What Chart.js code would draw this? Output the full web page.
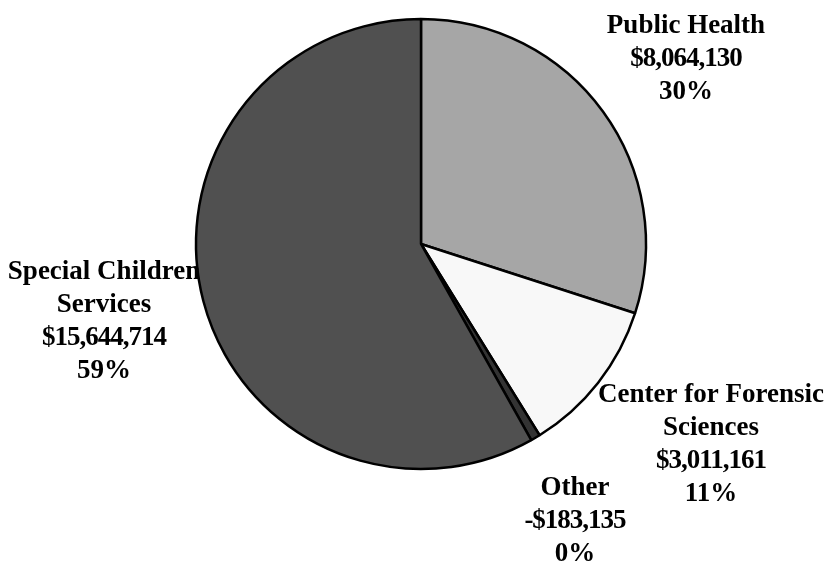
<!DOCTYPE html>
<html>
<head>
<meta charset="utf-8">
<script src="https://cdn.jsdelivr.net/npm/chart.js@4"></script>
<style>
  html, body { margin: 0; padding: 0; background: #fff; }
  #pieChart { display: block; }
</style>
</head>
<body>
<canvas id="pieChart" width="825" height="565"></canvas>
<script>
// data
const categories = ['Public Health', 'Center for Forensic Sciences', 'Other', 'Special Children Services'];
const nameLines = [['Public Health'], ['Center for Forensic', 'Sciences'], ['Other'], ['Special Children', 'Services']];
const amounts = [8064130, 3011161, -183135, 15644714];
const percentLabels = ['30%', '11%', '0%', '59%'];
const sliceColors = ['#a6a6a6', '#f8f8f8', '#333333', '#505050'];

// where each label block is centred (x, y of first line)
const labelSpots = [[686, 26], [711, 395], [575, 488], [104, 272]];

function money(v) {
    const s = '$' + Math.abs(v).toLocaleString('en-US');
    return v < 0 ? '-' + s : s;
}

const labelPlugin = {
    id: 'sliceLabels',
    afterDraw(chart) {
        const ctx = chart.ctx;
        ctx.save();
        ctx.font = 'bold 27px "Liberation Serif", "Times New Roman", serif';
        ctx.fillStyle = '#000';
        ctx.textAlign = 'center';
        ctx.textBaseline = 'middle';
        categories.forEach(function(cat, i) {
            const x = labelSpots[i][0];
            let y = labelSpots[i][1];
            nameLines[i].forEach(function(line) {
                ctx.letterSpacing = '0px';
                ctx.fillText(line, x, y);
                y += 33;
            });
            // the amounts are set tighter in the original
            ctx.letterSpacing = '-1px';
            ctx.fillText(money(amounts[i]), x, y);
            y += 33;
            ctx.letterSpacing = '0px';
            ctx.fillText(percentLabels[i], x, y);
        });
        ctx.restore();
    }
};

const ctx = document.getElementById('pieChart').getContext('2d');
new Chart(ctx, {
    type: 'pie',
    data: {
        labels: categories,
        datasets: [{
            data: amounts,
            backgroundColor: sliceColors,
            borderColor: '#000',
            borderWidth: 2.5
        }]
    },
    options: {
        responsive: false,
        animation: false,
        radius: 225,
        layout: {
            padding: { left: 17, right: 0, top: 18, bottom: 95 }
        },
        plugins: {
            legend: { display: false },
            tooltip: { enabled: false }
        }
    },
    plugins: [labelPlugin]
});
</script>
</body>
</html>
